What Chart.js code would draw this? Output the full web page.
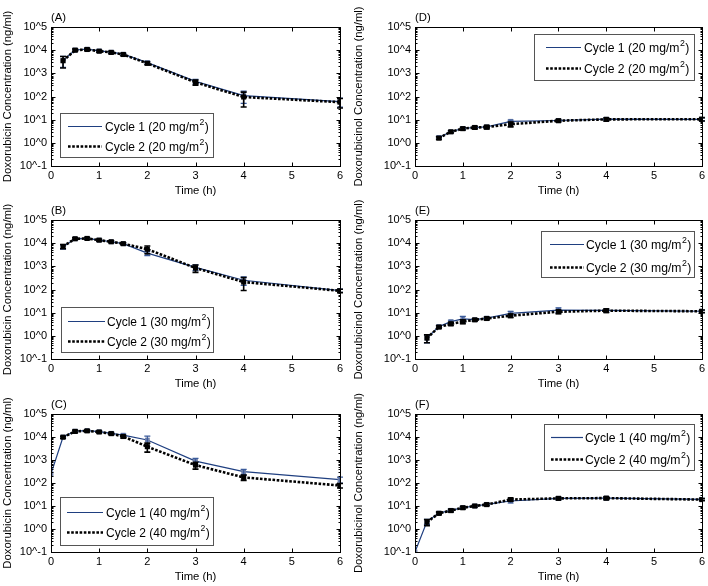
<!DOCTYPE html>
<html><head><meta charset="utf-8">
<script src="https://cdn.jsdelivr.net/npm/chart.js@4.4.1/dist/chart.umd.min.js"></script>
<style>
html,body{margin:0;padding:0;background:#fff;}
#wrap{position:relative;width:708px;height:586px;overflow:hidden;background:#fff;}
canvas{position:absolute;}
</style>
</head><body><div id="wrap"></div>
<script>
// ---------------- data ----------------
const timeH = [0, 0.25, 0.5, 0.75, 1, 1.25, 1.5, 2, 3, 4, 6];
const xTickValues = [0, 1, 2, 3, 4, 5, 6];
const yExponents = [-1, 0, 1, 2, 3, 4, 5];
const panelLabels = ['(A)', '(B)', '(C)', '(D)', '(E)', '(F)'];
const yTitleDox = 'Doxorubicin Concentration (ng/ml)';
const yTitleDoxol = 'Doxorubicinol Concentration (ng/ml)';
const xTitle = 'Time (h)';
const doses = ['20', '30', '40'];

// Doxorubicin (ng/ml), mean and SD
const dox20c1 = [null, 3600, 10200, 11000, 9300, 8200, 6700, 2900, 450, 110, 60];
const dox20c2 = [null, 3500, 10000, 10700, 9000, 8000, 6500, 2700, 410, 95, 57];
const dox20sd1 = [null, 1800, 1000, 1200, 800, 800, 700, 400, 100, 60, 25];
const dox20sd2 = [null, 1800, 1200, 1300, 900, 900, 700, 350, 100, 60, 25];

const dox30c1 = [null, 7000, 15500, 16000, 13500, 11500, 9500, 3700, 900, 250, 90];
const dox30c2 = [null, 7200, 15500, 16000, 13500, 11500, 9500, 5500, 850, 210, 88];
const dox30sd1 = [null, 1500, 1500, 1500, 1200, 1000, 900, 800, 250, 100, 15];
const dox30sd2 = [null, 1500, 1500, 1500, 1200, 1000, 900, 2000, 300, 120, 15];

const dox40c1 = [250, 10000, 18000, 19000, 17000, 14500, 12000, 7400, 900, 310, 140];
const dox40c2 = [null, 9800, 17500, 18500, 16500, 14000, 10500, 3800, 600, 175, 78];
const dox40sd1 = [null, 1000, 2000, 2000, 1500, 1500, 1500, 3500, 280, 80, 40];
const dox40sd2 = [null, 1000, 2000, 2000, 1500, 1500, 1500, 1600, 200, 45, 17];

// Doxorubicinol (ng/ml), mean and SD
const dol20c1 = [null, null, 1.7, 3.0, 4.2, 4.6, 4.9, 8.5, 9.2, 10.5, 10.3];
const dol20c2 = [null, null, 1.6, 3.0, 4.1, 4.6, 4.8, 6.4, 9.0, 10.3, 10.5];
const dol20sd1 = [null, null, 0.2, 0.3, 0.5, 0.5, 0.6, 1.0, 1.0, 1.5, 1.5];
const dol20sd2 = [null, null, 0.2, 0.3, 0.5, 0.6, 0.8, 1.5, 1.0, 1.5, 1.8];

const dol30c1 = [null, 0.8, 2.5, 4.1, 5.4, 5.0, 5.8, 9.4, 13, 12.5, 11.5];
const dol30c2 = [null, 0.8, 2.4, 3.3, 4.1, 4.9, 5.6, 7.4, 11, 12.2, 11.5];
const dol30sd1 = [null, 0.3, 0.3, 0.6, 1.5, 0.6, 0.7, 2.0, 3.0, 2.0, 1.5];
const dol30sd2 = [null, 0.3, 0.3, 0.5, 0.8, 0.6, 0.7, 1.2, 2.0, 2.0, 1.5];

const dol40c1 = [0.1, 2.1, 4.9, 6.5, 8.5, 10, 11.8, 16.5, 21.5, 22, 19.5];
const dol40c2 = [null, 2.0, 4.8, 6.3, 8.4, 10, 11.5, 19, 21.5, 22, 19];
const dol40sd1 = [null, 0.5, 0.6, 0.8, 1, 1, 1.2, 3, 3, 3, 2];
const dol40sd2 = [null, 0.6, 0.6, 0.8, 1, 1, 1.2, 3, 2.5, 3, 2];

// ---------------- styling / layout ----------------
const FONT = '"Liberation Sans", Arial, Helvetica, sans-serif';
const C1 = '#1f3f80';
const C1M = '#7080a8';
const C2 = '#000000';

const cols = [{left: 0, width: 354, axisW: 51, padR: 14, titleX: 8},
              {left: 354, width: 354, axisW: 61, padR: 6, titleX: 5}];
const rows = [{top: 0, height: 198, chartTop: 27},
              {top: 194, height: 197, chartTop: 26},
              {top: 388, height: 196, chartTop: 26}];

const panels = [
  {col: 0, row: 0, c1: dox20c1, c2: dox20c2, sd1: dox20sd1, sd2: dox20sd2, dose: 0, yTitle: yTitleDox,
   leg: {x: 60, y: 113, w: 153, h: 44, r: [13, 33], s0: 8, s1: 42, t0: 45, fs: 12}},
  {col: 0, row: 1, c1: dox30c1, c2: dox30c2, sd1: dox30sd1, sd2: dox30sd2, dose: 1, yTitle: yTitleDox,
   leg: {x: 61, y: 113, w: 152, h: 45, r: [14, 34], s0: 7, s1: 44, t0: 46, fs: 12}},
  {col: 0, row: 2, c1: dox40c1, c2: dox40c2, sd1: dox40sd1, sd2: dox40sd2, dose: 2, yTitle: yTitleDox,
   leg: {x: 60, y: 109, w: 153, h: 48, r: [15, 35], s0: 7, s1: 43, t0: 46, fs: 12}},
  {col: 1, row: 0, c1: dol20c1, c2: dol20c2, sd1: dol20sd1, sd2: dol20sd2, dose: 0, yTitle: yTitleDoxol,
   leg: {x: 180, y: 34, w: 160, h: 46, r: [13, 34], s0: 12, s1: 47, t0: 50, fs: 12.2}},
  {col: 1, row: 1, c1: dol30c1, c2: dol30c2, sd1: dol30sd1, sd2: dol30sd2, dose: 1, yTitle: yTitleDoxol,
   leg: {x: 187, y: 37, w: 153, h: 46, r: [13, 36], s0: 9, s1: 43, t0: 45, fs: 12.2}},
  {col: 1, row: 2, c1: dol40c1, c2: dol40c2, sd1: dol40sd1, sd2: dol40sd2, dose: 2, yTitle: yTitleDoxol,
   leg: {x: 190, y: 36, w: 150, h: 46, r: [13, 35], s0: 7, s1: 39, t0: 41, fs: 12.2}}
];

function pts(vals) { return timeH.map((t, i) => ({x: t, y: vals[i]})); }

// ---------------- plugins ----------------
const errorBars = {
  id: 'errorBars',
  afterDatasetDraw(chart, args) {
    const ds = chart.data.datasets[args.index];
    if (!ds.sd) return;
    const {ctx, scales: {x, y}} = chart;
    ctx.save();
    ctx.strokeStyle = ds.errColor;
    ctx.lineWidth = ds.errWidth;
    ctx.setLineDash([]);
    ds.data.forEach((p, i) => {
      const s = ds.sd[i];
      if (p.y == null || s == null) return;
      const px = x.getPixelForValue(p.x);
      const hi = y.getPixelForValue(p.y + s);
      const lo = y.getPixelForValue(Math.max(p.y - s, 0.1));
      ctx.beginPath();
      ctx.moveTo(px, hi); ctx.lineTo(px, lo);
      ctx.moveTo(px - 3, hi); ctx.lineTo(px + 3, hi);
      ctx.moveTo(px - 3, lo); ctx.lineTo(px + 3, lo);
      ctx.stroke();
    });
    ctx.restore();
  }
};

const frame = {
  id: 'frame',
  afterDraw(chart, args, o) {
    const {ctx, chartArea: a, scales: {x, y}} = chart;
    ctx.save();
    ctx.strokeStyle = '#000';
    ctx.lineWidth = 1;
    const L = Math.round(a.left) + 0.5, R = Math.round(a.right) + 0.5;
    const T = Math.round(a.top) + 0.5, B = Math.round(a.bottom) + 0.5;
    ctx.strokeRect(L, T, R - L, B - T);
    ctx.beginPath();
    xTickValues.forEach(v => {
      const px = Math.round(x.getPixelForValue(v)) + 0.5;
      ctx.moveTo(px, B); ctx.lineTo(px, B - 4);
      ctx.moveTo(px, T); ctx.lineTo(px, T + 4);
    });
    yExponents.forEach(e => {
      for (let k = 1; k <= 9; k++) {
        const v = k * Math.pow(10, e);
        if (v > 1e5 * 1.0001) break;
        const py = Math.round(y.getPixelForValue(v)) + 0.5;
        const len = k === 1 ? 4 : 2;
        ctx.moveTo(L, py); ctx.lineTo(L + len, py);
        ctx.moveTo(R, py); ctx.lineTo(R - len, py);
      }
    });
    ctx.stroke();

    // y axis title (drawn unconstrained so it can overflow the plot height)
    ctx.fillStyle = '#000';
    ctx.font = '11.3px ' + FONT;
    ctx.translate(o.titleX, (a.top + a.bottom) / 2);
    ctx.rotate(-Math.PI / 2);
    ctx.textAlign = 'center';
    ctx.textBaseline = 'middle';
    ctx.fillText(o.yTitle, 0, 0);
    ctx.setTransform(1, 0, 0, 1, 0, 0);

    // legend
    const g = o.leg;
    ctx.fillStyle = '#fff';
    ctx.fillRect(g.x, g.y, g.w, g.h);
    ctx.strokeStyle = '#555';
    ctx.strokeRect(g.x + 0.5, g.y + 0.5, g.w, g.h);
    chart.data.datasets.forEach((ds, i) => {
      const yy = g.y + g.r[i] + 0.5;
      ctx.beginPath();
      ctx.strokeStyle = ds.borderColor;
      ctx.lineWidth = ds.borderWidth;
      ctx.setLineDash(ds.borderDash || []);
      ctx.moveTo(g.x + g.s0, yy); ctx.lineTo(g.x + g.s1, yy);
      ctx.stroke();
      ctx.setLineDash([]);
      const parts = ds.label.split('²');
      ctx.fillStyle = '#000';
      ctx.textAlign = 'left';
      ctx.textBaseline = 'middle';
      let tx = g.x + g.t0;
      ctx.font = g.fs + 'px ' + FONT;
      ctx.fillText(parts[0], tx, yy + 1.5);
      tx += ctx.measureText(parts[0]).width + 0.5;
      ctx.font = (g.fs * 0.72) + 'px ' + FONT;
      ctx.fillText('2', tx, yy - 3.5);
      tx += ctx.measureText('2').width + 0.5;
      ctx.font = g.fs + 'px ' + FONT;
      ctx.fillText(parts[1], tx, yy + 1.5);
    });
    ctx.restore();
  }
};

// ---------------- build charts ----------------
const wrap = document.getElementById('wrap');
panels.forEach((p, idx) => {
  const col = cols[p.col], row = rows[p.row];
  const cv = document.createElement('canvas');
  cv.width = col.width; cv.height = row.height;
  cv.style.left = col.left + 'px'; cv.style.top = row.top + 'px';
  cv.style.width = col.width + 'px'; cv.style.height = row.height + 'px';
  wrap.appendChild(cv);
  const titleLH = 11.3 * 1.2;
  const titlePadBottom = 2.5;
  const titlePadTop = row.chartTop - titleLH - titlePadBottom;
  new Chart(cv, {
    type: 'line',
    data: {
      datasets: [
        {label: 'Cycle 1 (' + doses[p.dose] + ' mg/m²)', data: pts(p.c1), sd: p.sd1,
         borderColor: C1, borderWidth: 1.2, pointStyle: 'rect', pointRadius: 3.4,
         pointBackgroundColor: C1M, pointBorderColor: C1M, pointBorderWidth: 0,
         errColor: '#3b5b9b', errWidth: 1.2, order: 2, tension: 0, spanGaps: false},
        {label: 'Cycle 2 (' + doses[p.dose] + ' mg/m²)', data: pts(p.c2), sd: p.sd2,
         borderColor: C2, borderWidth: 2.6, borderDash: [2.6, 1.6], pointStyle: 'rect', pointRadius: 3.6,
         pointBackgroundColor: C2, pointBorderColor: C2, pointBorderWidth: 0,
         errColor: '#000', errWidth: 1.6, order: 1, tension: 0, spanGaps: false}
      ]
    },
    options: {
      responsive: false, animation: false, devicePixelRatio: 1,
      events: [],
      layout: {padding: {top: 0, left: 0, right: col.padR, bottom: 0}},
      plugins: {
        legend: {display: false},
        tooltip: {enabled: false},
        title: {display: true, text: panelLabels[idx], align: 'start', fullSize: false,
                color: '#000', font: {family: FONT, size: 11.3, weight: 'normal', lineHeight: 1.2},
                padding: {top: titlePadTop, bottom: titlePadBottom}},
        frame: {titleX: col.titleX, yTitle: p.yTitle, leg: p.leg}
      },
      scales: {
        x: {type: 'linear', min: 0, max: 6,
            grid: {display: false, drawTicks: false}, border: {display: false},
            afterBuildTicks: (ax) => { ax.ticks = xTickValues.map(v => ({value: v})); },
            ticks: {color: '#000', font: {family: FONT, size: 11}, padding: 3, maxRotation: 0},
            title: {display: true, text: xTitle, color: '#000', font: {family: FONT, size: 11.3}, padding: {top: 0, bottom: 0}},
            afterFit: (s) => { s.height = 32; }},
        y: {type: 'logarithmic', min: 0.1, max: 1e5,
            grid: {display: false, drawTicks: false}, border: {display: false},
            afterBuildTicks: (ax) => { ax.ticks = yExponents.map(e => ({value: Math.pow(10, e)})); },
            ticks: {color: '#000', font: {family: FONT, size: 11}, padding: 4,
                    callback: (v) => '10^' + Math.round(Math.log10(v))},
            afterFit: (s) => { s.width = col.axisW; }}
      }
    },
    plugins: [errorBars, frame]
  });
});
</script>
</body></html>
